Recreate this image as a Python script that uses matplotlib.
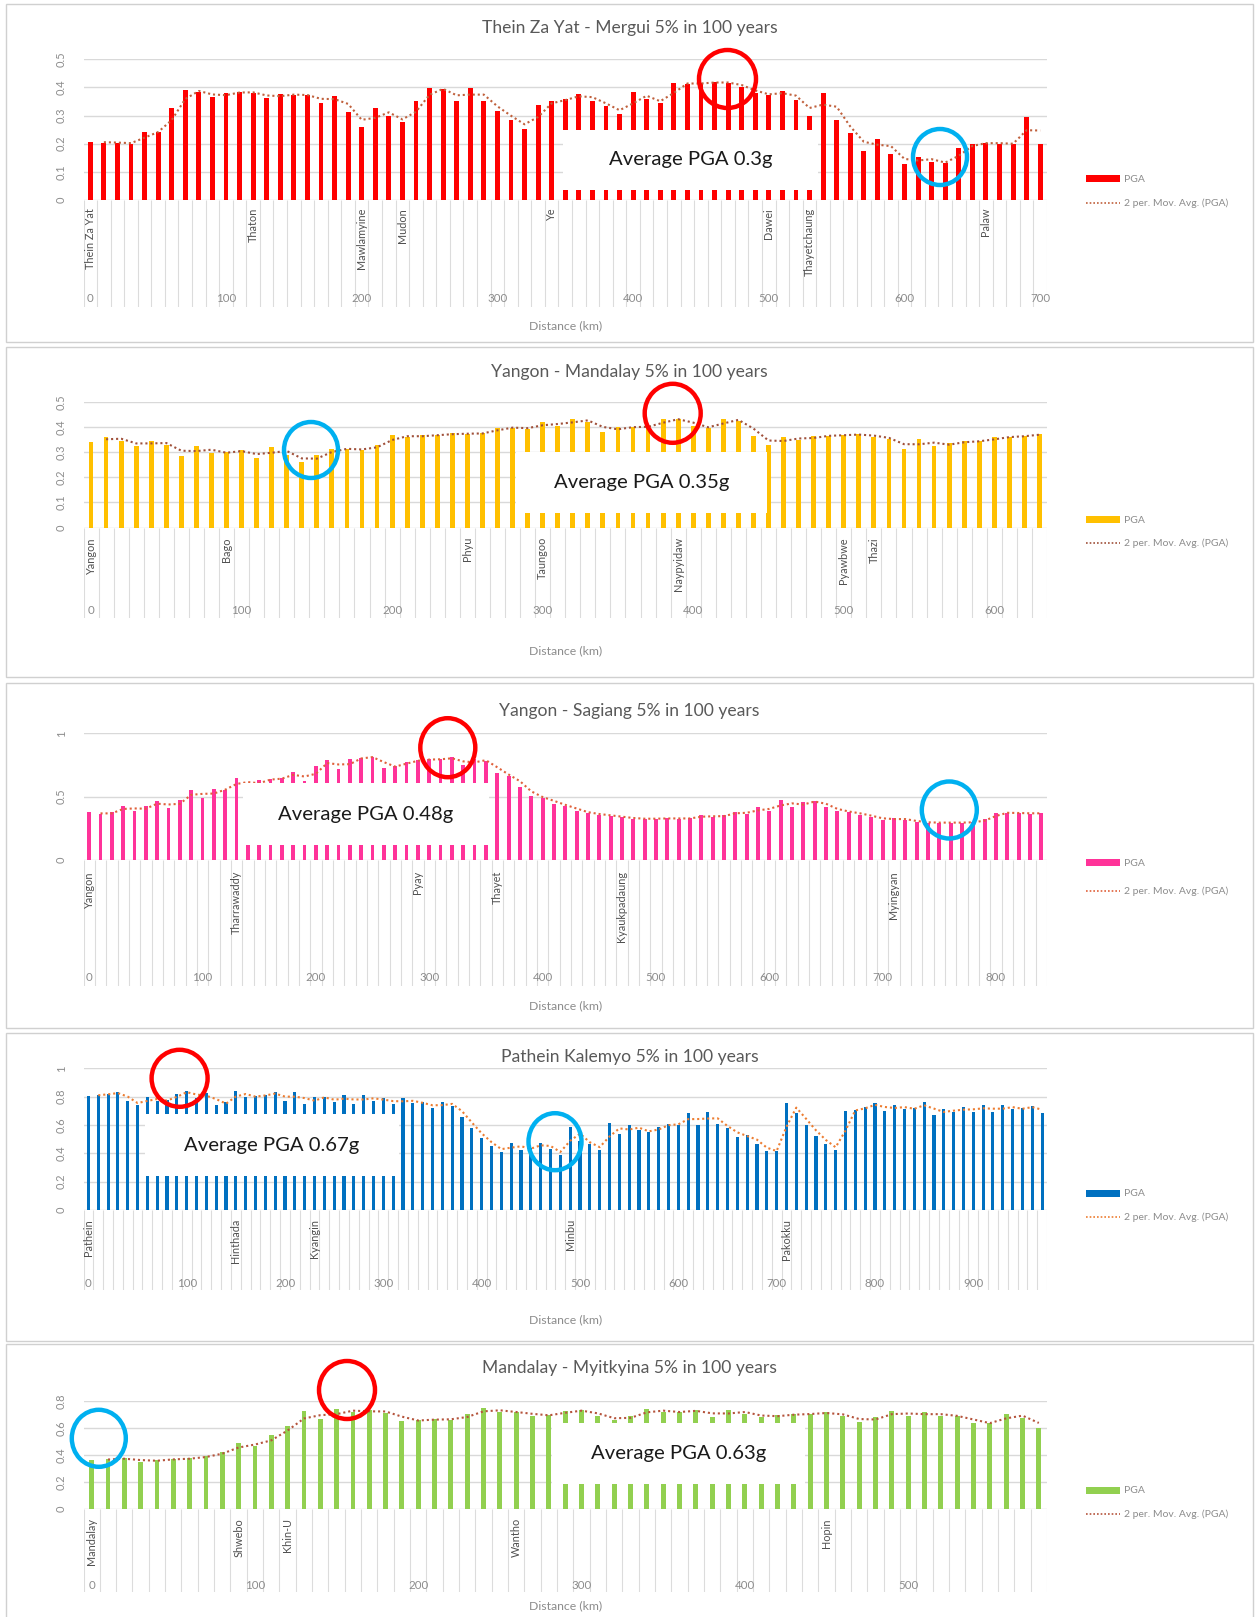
import numpy as np
import matplotlib
matplotlib.use("Agg")
import matplotlib.pyplot as plt
from matplotlib.patches import Rectangle, Ellipse
from matplotlib.lines import Line2D

plt.rcParams["font.family"] = ["Lato", "DejaVu Sans"]

W, H = 1255, 1617

# PGA (g) at 10 km steps along each route, 5% in 100 years
pga_mergui = [0.207, 0.204, 0.204, 0.20, 0.243, 0.24, 0.328, 0.39, 0.385, 0.365,
              0.38, 0.384, 0.381, 0.362, 0.376, 0.373, 0.373, 0.346, 0.371, 0.312,
              0.258, 0.326, 0.297, 0.276, 0.351, 0.397, 0.393, 0.351, 0.398, 0.351,
              0.315, 0.284, 0.254, 0.336, 0.351, 0.359, 0.378, 0.353, 0.334, 0.304,
              0.383, 0.358, 0.344, 0.417, 0.411, 0.417, 0.418, 0.417, 0.40, 0.379,
              0.372, 0.387, 0.355, 0.299, 0.379, 0.284, 0.239, 0.175, 0.218, 0.165,
              0.127, 0.154, 0.136, 0.13, 0.184, 0.20, 0.204, 0.20, 0.20, 0.296, 0.198]
pga_mandalay = [0.341, 0.361, 0.345, 0.324, 0.345, 0.327, 0.284, 0.324, 0.295, 0.30,
                0.308, 0.276, 0.319, 0.29, 0.26, 0.288, 0.313, 0.313, 0.308, 0.33,
                0.366, 0.36, 0.366, 0.368, 0.374, 0.372, 0.376, 0.397, 0.397, 0.393,
                0.42, 0.403, 0.433, 0.419, 0.381, 0.40, 0.398, 0.403, 0.43, 0.431,
                0.403, 0.394, 0.433, 0.423, 0.364, 0.328, 0.36, 0.348, 0.364, 0.365,
                0.369, 0.37, 0.361, 0.352, 0.311, 0.351, 0.324, 0.335, 0.343, 0.343,
                0.358, 0.361, 0.365, 0.373]
pga_sagiang = [0.376, 0.36, 0.376, 0.43, 0.384, 0.426, 0.463, 0.413, 0.474, 0.555,
               0.489, 0.56, 0.55, 0.65, 0.58, 0.632, 0.637, 0.647, 0.697, 0.621,
               0.74, 0.79, 0.718, 0.795, 0.808, 0.816, 0.729, 0.745, 0.776, 0.79,
               0.795, 0.795, 0.81, 0.747, 0.795, 0.78, 0.684, 0.666, 0.579, 0.505,
               0.489, 0.445, 0.426, 0.387, 0.368, 0.358, 0.347, 0.337, 0.326, 0.326,
               0.326, 0.33, 0.326, 0.33, 0.353, 0.337, 0.355, 0.382, 0.363, 0.42,
               0.387, 0.474, 0.42, 0.455, 0.468, 0.42, 0.387, 0.379, 0.358, 0.342,
               0.316, 0.33, 0.316, 0.30, 0.295, 0.295, 0.295, 0.295, 0.30, 0.321,
               0.374, 0.371, 0.371, 0.366, 0.371]
pga_kalemyo = [0.805, 0.814, 0.819, 0.831, 0.769, 0.741, 0.798, 0.769, 0.776, 0.821,
               0.842, 0.788, 0.824, 0.741, 0.76, 0.842, 0.795, 0.805, 0.812, 0.831,
               0.769, 0.831, 0.748, 0.795, 0.795, 0.762, 0.809, 0.751, 0.809, 0.767,
               0.791, 0.746, 0.788, 0.753, 0.76, 0.718, 0.762, 0.736, 0.659, 0.576,
               0.506, 0.452, 0.407, 0.473, 0.426, 0.44, 0.473, 0.431, 0.388, 0.588,
               0.49, 0.466, 0.421, 0.616, 0.536, 0.60, 0.562, 0.548, 0.588, 0.609,
               0.60, 0.682, 0.602, 0.689, 0.605, 0.581, 0.515, 0.529, 0.464, 0.416,
               0.416, 0.758, 0.687, 0.60, 0.525, 0.464, 0.421, 0.699, 0.706, 0.729,
               0.755, 0.699, 0.741, 0.711, 0.718, 0.76, 0.671, 0.713, 0.689, 0.727,
               0.694, 0.741, 0.689, 0.741, 0.711, 0.718, 0.734, 0.682]
pga_myitkyina = [0.363, 0.37, 0.375, 0.35, 0.365, 0.37, 0.375, 0.395, 0.425, 0.486,
                 0.469, 0.548, 0.615, 0.726, 0.664, 0.741, 0.716, 0.731, 0.714, 0.654,
                 0.657, 0.667, 0.662, 0.701, 0.746, 0.716, 0.721, 0.689, 0.699, 0.726,
                 0.731, 0.686, 0.659, 0.691, 0.741, 0.716, 0.721, 0.733, 0.684, 0.731,
                 0.706, 0.679, 0.696, 0.701, 0.706, 0.716, 0.686, 0.647, 0.679, 0.726,
                 0.689, 0.716, 0.689, 0.691, 0.635, 0.637, 0.706, 0.677, 0.598]

# towns along each route (name, km)
towns_mergui = [("Thein Za Yat", 0), ("Thaton", 120), ("Mawlamyine", 200), ("Mudon", 230),
                ("Ye", 340), ("Dawei", 500), ("Thayetchaung", 530), ("Palaw", 660)]
towns_mandalay = [("Yangon", 0), ("Bago", 90), ("Phyu", 250), ("Taungoo", 300),
                  ("Naypyidaw", 390), ("Pyawbwe", 500), ("Thazi", 520)]
towns_sagiang = [("Yangon", 0), ("Tharrawaddy", 130), ("Pyay", 290), ("Thayet", 360),
                 ("Kyaukpadaung", 470), ("Myingyan", 710)]
towns_kalemyo = [("Pathein", 0), ("Hinthada", 150), ("Kyangin", 230), ("Minbu", 490),
                 ("Pakokku", 710)]
towns_myitkyina = [("Mandalay", 0), ("Shwebo", 90), ("Khin-U", 120), ("Wantho", 260),
                   ("Hopin", 450)]

km_ticks_mergui = [0, 100, 200, 300, 400, 500, 600, 700]
km_ticks_mandalay = [0, 100, 200, 300, 400, 500, 600]
km_ticks_sagiang = [0, 100, 200, 300, 400, 500, 600, 700, 800]
km_ticks_kalemyo = [0, 100, 200, 300, 400, 500, 600, 700, 800, 900]
km_ticks_myitkyina = [0, 100, 200, 300, 400, 500]

avg_pga = ["0.3", "0.35", "0.48", "0.67", "0.63"]

GRID = "#d9d9d9"
TICK = "#8c8c8c"
TITLE = "#595959"

# layout of each chart block, in pixels from the top-left corner
panels = [
    dict(title="Thein Za Yat - Mergui 5% in 100 years", pga=pga_mergui, towns=towns_mergui,
         km_ticks=km_ticks_mergui, avg=avg_pga[0], color="#ff0000", ma="#c0603c",
         ymax=0.5, yticks=[0, 0.1, 0.2, 0.3, 0.4, 0.5], bar_w=0.36,
         frame=(4, 342), y0=200, ytop=59.3, strip=307, town_y=208, km_y=298,
         title_y=28, xlab_y=326, leg=(179, 203),
         box=(563, 130, 818, 190),
         rings=[("#ff0000", 727.5, 79, 57, 58), ("#00b0f0", 940, 157, 54, 56)]),
    dict(title="Yangon - Mandalay 5% in 100 years", pga=pga_mandalay, towns=towns_mandalay,
         km_ticks=km_ticks_mandalay, avg=avg_pga[1], color="#ffc000", ma="#a0503a",
         ymax=0.5, yticks=[0, 0.1, 0.2, 0.3, 0.4, 0.5], bar_w=0.32,
         frame=(347, 677), y0=527.7, ytop=401.7, strip=618, town_y=537, km_y=610,
         title_y=372, xlab_y=651, leg=(520, 543),
         box=(516, 452, 767, 513),
         rings=[("#00b0f0", 311, 450, 54, 56), ("#ff0000", 672.7, 413.3, 56, 59)]),
    dict(title="Yangon - Sagiang 5% in 100 years", pga=pga_sagiang, towns=towns_sagiang,
         km_ticks=km_ticks_sagiang, avg=avg_pga[2], color="#ff3399", ma="#e0603a",
         ymax=1.0, yticks=[0, 0.5, 1.0], bar_w=0.34,
         frame=(683, 1028), y0=860, ytop=733.3, strip=986, town_y=871, km_y=977,
         title_y=711, xlab_y=1006, leg=(863, 891),
         box=(243, 783.3, 489, 844.7),
         rings=[("#ff0000", 447.8, 747.7, 55, 59), ("#00b0f0", 949.3, 810, 55, 57)]),
    dict(title="Pathein Kalemyo 5% in 100 years", pga=pga_kalemyo, towns=towns_kalemyo,
         km_ticks=km_ticks_kalemyo, avg=avg_pga[3], color="#0070c0", ma="#ed7d31",
         ymax=1.0, yticks=[0, 0.2, 0.4, 0.6, 0.8, 1.0], bar_w=0.32,
         frame=(1033, 1341), y0=1210, ytop=1068.3, strip=1290, town_y=1219, km_y=1283,
         title_y=1057, xlab_y=1320, leg=(1193, 1217),
         box=(145, 1114.3, 399, 1176),
         rings=[("#ff0000", 179.6, 1078.3, 56, 57), ("#00b0f0", 555, 1141.7, 53, 57)]),
    dict(title="Mandalay - Myitkyina 5% in 100 years", pga=pga_myitkyina, towns=towns_myitkyina,
         km_ticks=km_ticks_myitkyina, avg=avg_pga[4], color="#92d050", ma="#b5543c",
         ymax=0.8, yticks=[0, 0.2, 0.4, 0.6, 0.8], bar_w=0.3,
         frame=(1344, 1640), y0=1509, ytop=1401, strip=1592, town_y=1518, km_y=1585,
         title_y=1368, xlab_y=1606, leg=(1490, 1514),
         box=(552, 1422.7, 804.5, 1484),
         rings=[("#00b0f0", 98.8, 1438.3, 54, 57), ("#ff0000", 347, 1390, 56, 58)]),
]

PLOT_L, PLOT_R = 83.5, 1047


def fx(x):
    return x / W


def fy(y):
    return 1 - y / H


def fmt_tick(v):
    return "0" if v == 0 else ("1" if v == 1 else f"{v:g}")


def draw_panel(fig, p):
    vals = np.array(p["pga"], dtype=float)
    n = len(vals)
    x = np.arange(n)

    # frame around the chart block
    top, bot = p["frame"]
    fig.add_artist(Rectangle((fx(5.5), fy(bot)), fx(1253) - fx(5.5), (bot - top) / H,
                             transform=fig.transFigure, fill=False,
                             edgecolor="#d0d0d0", lw=1.0, zorder=0))

    ax = fig.add_axes([fx(PLOT_L), fy(p["y0"]), fx(PLOT_R) - fx(PLOT_L),
                       (p["y0"] - p["ytop"]) / H])
    ax.bar(x, vals, width=p["bar_w"], color=p["color"], zorder=2)
    ma = (vals[1:] + vals[:-1]) / 2
    ax.plot(x[1:], ma, ls=(0, (1, 1.4)), color=p["ma"], lw=1.5, zorder=3)
    ax.set_xlim(-0.5, n - 0.5)
    ax.set_ylim(0, p["ymax"])
    ax.set_yticks(p["yticks"])
    ax.set_yticklabels([fmt_tick(v) for v in p["yticks"]])
    ax.set_xticks([])
    ax.tick_params(axis="y", length=0, pad=12, labelsize=8, labelcolor=TICK)
    for lbl in ax.get_yticklabels():
        lbl.set_rotation(90)
        lbl.set_va("center")
    ax.yaxis.grid(True, color=GRID, lw=1.0, zorder=0)
    for s in ax.spines.values():
        s.set_visible(False)
    ax.set_facecolor("none")

    # category strip below the bars: town names and distances
    strip_h = p["strip"] - p["y0"]
    axl = fig.add_axes([fx(PLOT_L), fy(p["strip"]), fx(PLOT_R) - fx(PLOT_L), strip_h / H])
    axl.set_xlim(-0.5, n - 0.5)
    axl.set_ylim(strip_h, 0)
    axl.axis("off")
    axl.vlines(np.arange(n + 1) - 0.5, 0, strip_h, color="#dcdcdc", lw=0.8)
    for name, km in p["towns"]:
        axl.text(km / 10, p["town_y"] - p["y0"], name, rotation=90, ha="center",
                 va="top", fontsize=7.8, color="#505050")
    for km in p["km_ticks"]:
        axl.text(km / 10, p["km_y"] - p["y0"], str(km), ha="center", va="center",
                 fontsize=8.3, color=TICK)

    fig.text(fx(629.5), fy(p["title_y"]), p["title"], ha="center", va="center",
             fontsize=12.6, color=TITLE)
    fig.text(fx((PLOT_L + PLOT_R) / 2), fy(p["xlab_y"]), "Distance (km)", ha="center",
             va="center", fontsize=8.8, color=TICK)

    # legend
    y_bar, y_ma = p["leg"]
    fig.add_artist(Rectangle((fx(1085.5), fy(y_bar + 3.5)), fx(1119.5) - fx(1085.5), 7 / H,
                             transform=fig.transFigure, color=p["color"], lw=0))
    fig.add_artist(Line2D([fx(1085.5), fx(1119.5)], [fy(y_ma), fy(y_ma)],
                          transform=fig.transFigure, color=p["ma"], lw=1.2,
                          ls=(0, (1, 1.2))))
    fig.text(fx(1124), fy(y_bar), "PGA", va="center", fontsize=7.5, color=TICK)
    fig.text(fx(1124), fy(y_ma), "2 per. Mov. Avg. (PGA)", va="center", fontsize=7.5,
             color=TICK)

    # average value box
    bx0, by0, bx1, by1 = p["box"]
    fig.add_artist(Rectangle((fx(bx0), fy(by1)), fx(bx1) - fx(bx0), (by1 - by0) / H,
                             transform=fig.transFigure, facecolor="white", lw=0, zorder=5))
    fig.text(fx((bx0 + bx1) / 2), fy((by0 + by1) / 2), f"Average PGA {p['avg']}g",
             ha="center", va="center", fontsize=14.6, color="#1a1a1a", zorder=6)

    # highlight rings
    for col, cx, cy, w, h in p["rings"]:
        fig.add_artist(Ellipse((fx(cx), fy(cy)), w / W, h / H, transform=fig.transFigure,
                               fill=False, edgecolor=col, lw=3.2, zorder=7))


fig = plt.figure(figsize=(W / 100, H / 100), dpi=100)
for p in panels:
    draw_panel(fig, p)

fig.savefig("out.png", dpi=100, facecolor="white")
